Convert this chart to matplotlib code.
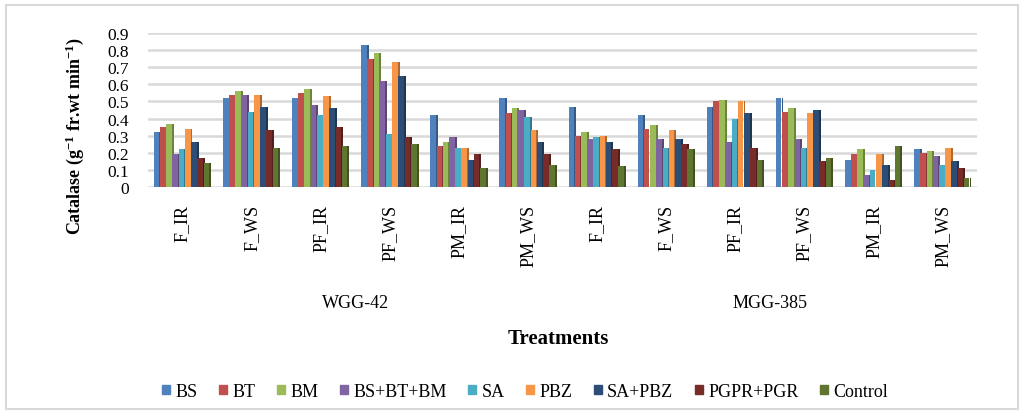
import numpy as np
import matplotlib.pyplot as plt
import matplotlib.colors as mcolors
from matplotlib.patches import Rectangle

# Catalase activity by treatment, two genotypes x six stage/condition groups
stages = ['F_IR', 'F_WS', 'PF_IR', 'PF_WS', 'PM_IR', 'PM_WS',
          'F_IR', 'F_WS', 'PF_IR', 'PF_WS', 'PM_IR', 'PM_WS']
genotypes = ['WGG-42', 'MGG-385']
treatments = ['BS', 'BT', 'BM', 'BS+BT+BM', 'SA', 'PBZ', 'SA+PBZ', 'PGPR+PGR', 'Control']

bs       = [0.32, 0.52, 0.52, 0.83, 0.42, 0.52, 0.47, 0.42, 0.47, 0.52, 0.16, 0.22]
bt       = [0.35, 0.54, 0.55, 0.75, 0.24, 0.43, 0.30, 0.34, 0.50, 0.44, 0.19, 0.20]
bm       = [0.37, 0.56, 0.57, 0.78, 0.26, 0.46, 0.32, 0.36, 0.51, 0.46, 0.22, 0.21]
bs_bt_bm = [0.19, 0.54, 0.48, 0.62, 0.29, 0.45, 0.28, 0.28, 0.26, 0.28, 0.07, 0.18]
sa       = [0.22, 0.44, 0.42, 0.31, 0.23, 0.41, 0.29, 0.23, 0.40, 0.23, 0.10, 0.13]
pbz      = [0.34, 0.54, 0.53, 0.73, 0.23, 0.33, 0.30, 0.33, 0.50, 0.43, 0.19, 0.23]
sa_pbz   = [0.26, 0.47, 0.46, 0.65, 0.16, 0.26, 0.26, 0.28, 0.43, 0.45, 0.13, 0.15]
pgpr_pgr = [0.17, 0.33, 0.35, 0.29, 0.19, 0.19, 0.22, 0.25, 0.23, 0.15, 0.04, 0.11]
control  = [0.14, 0.23, 0.24, 0.25, 0.11, 0.13, 0.12, 0.22, 0.16, 0.17, 0.24, 0.05]

series = [bs, bt, bm, bs_bt_bm, sa, pbz, sa_pbz, pgpr_pgr, control]
colors = ['#4F81BD', '#C0504D', '#9BBB59', '#8064A2', '#4BACC6',
          '#F79646', '#2C4D75', '#772C2A', '#5F7530']

plt.rcParams['font.family'] = ['Liberation Serif', 'DejaVu Serif']
plt.rcParams['mathtext.fontset'] = 'custom'
plt.rcParams['mathtext.rm'] = 'Liberation Serif:bold'
plt.rcParams['mathtext.default'] = 'rm'

fig = plt.figure(figsize=(10.24, 4.14), dpi=100)
fig.patches.append(Rectangle((0.006, 0.01), 0.988, 0.975, transform=fig.transFigure,
                             fill=False, edgecolor='#d9d9d9', linewidth=1.5))
ax = fig.add_axes([0.1445, 0.546, 0.81, 0.372])

x = np.arange(len(stages))
w = 0.09
side = 0.028

for i, (vals, c) in enumerate(zip(series, colors)):
    pos = x - 0.42 + w / 2 + i * w
    dark = np.array(mcolors.to_rgb(c)) * 0.7
    # darker side face for a bit of depth
    ax.bar(pos + w / 2 + side / 2 - 0.004, vals, width=side, color=dark, zorder=2,
           linewidth=0)
    ax.bar(pos, vals, width=w * 0.9, color=c, label=treatments[i], zorder=3,
           linewidth=0)

ax.set_xlim(-0.5, len(stages) - 0.5)
ax.set_ylim(0, 0.9)
ax.set_yticks(np.arange(0, 0.91, 0.1))
ax.set_yticklabels(['0'] + [f'{v:.1f}' for v in np.arange(0.1, 0.91, 0.1)], fontsize=12.5)
ax.yaxis.grid(True, color='#d9d9d9', linewidth=1.8, zorder=0)
ax.set_axisbelow(True)
for s in ax.spines.values():
    s.set_visible(False)
ax.tick_params(axis='both', length=0)
ax.tick_params(axis='y', pad=14)

ax.set_xticks(x)
ax.set_xticklabels(stages, rotation=90, fontsize=13)
ax.tick_params(axis='x', pad=12)

fig.text(75 / 1024, 1 - 136 / 414, 'Catalase (g$^{-1}$ fr.wt min$^{-1}$)', rotation=90,
         ha='center', va='center', fontsize=13, fontweight='bold')

# genotype labels under each half
for j, g in enumerate(genotypes):
    ax.text(2.5 + 6 * j, -0.678, g, ha='center', va='center', fontsize=13)

fig.text(0.545, 0.181, 'Treatments', ha='center', va='center', fontsize=15,
         fontweight='bold')

handles = [Rectangle((0, 0), 1, 1, color=c) for c in colors]
fig.legend(handles, treatments, loc='center', bbox_to_anchor=(0.513, 0.052), ncol=9,
           frameon=False, fontsize=13, handlelength=0.45, handleheight=0.45,
           handletextpad=0.28, columnspacing=1.2)

fig.savefig('out.png', dpi=100)
